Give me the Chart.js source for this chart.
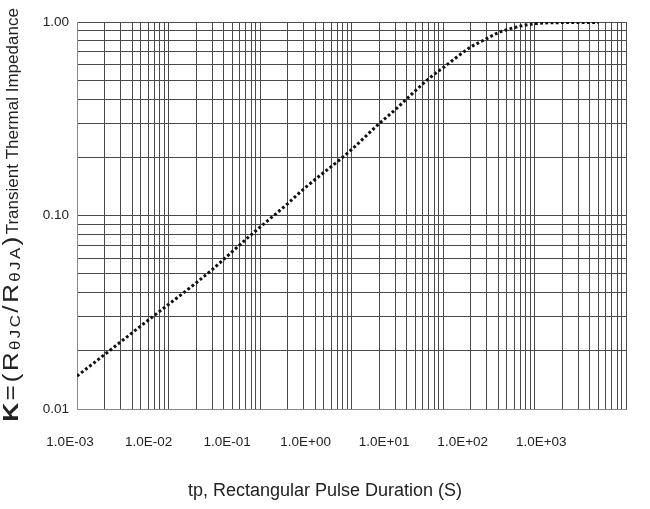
<!DOCTYPE html>
<html>
<head>
<meta charset="utf-8">
<script src="https://cdn.jsdelivr.net/npm/chart.js@4/dist/chart.umd.min.js"></script>
<style>
  html, body { margin: 0; padding: 0; background: #fff; }
  #wrap { width: 650px; height: 509px; }
</style>
</head>
<body>
<div id="wrap"><canvas id="myChart" width="650" height="509"></canvas></div>
<script>
'use strict';

// パルス幅 (s)
var tp = [0.001, 0.002, 0.005, 0.01, 0.02, 0.03, 0.05, 0.08, 0.2, 0.3, 0.8, 1, 2, 3, 4, 7, 10, 20, 30, 40, 70, 100, 200, 500];
// K = RθJC / RθJA
var kValues = [0.0148, 0.0191, 0.0269, 0.0347, 0.0448, 0.0525, 0.0652, 0.0795, 0.115, 0.137, 0.200, 0.219, 0.298, 0.352, 0.40, 0.51, 0.58, 0.741, 0.82, 0.88, 0.952, 0.98, 0.993, 0.995];

// 目盛りラベル
var xTickLabels = ['1.0E-03', '1.0E-02', '1.0E-01', '1.0E+00', '1.0E+01', '1.0E+02', '1.0E+03'];
var yTickLabels = ['0.01', '0.10', '1.00'];

var xTitle = 'tp, Rectangular Pulse Duration (S)';
// 縦軸タイトル (太字・下付きを含むので分割)
var yTitleParts = [
  { text: 'K', bold: true, size: 22, wide: true },
  { text: '=(R', size: 22, wide: true },
  { text: 'θJC', sub: true, size: 14, wide: true },
  { text: '/R', size: 22, wide: true },
  { text: 'θJA', sub: true, size: 14, wide: true },
  { text: ')', size: 22, wide: true },
  { text: 'Transient Thermal Impedance', size: 17 }
];

var FONT = "'Liberation Sans', Arial, sans-serif";
var GRID = '#4a4a4a';

// 対数目盛り 1..9 x 10^n
function logTicks(minExp, maxExp) {
  var t = [];
  for (var e = minExp; e < maxExp; e++) {
    for (var m = 1; m < 10; m++) {
      t.push({ value: parseFloat((m * Math.pow(10, e)).toPrecision(6)) });
    }
  }
  t.push({ value: Math.pow(10, maxExp) });
  return t;
}

// 縦軸タイトルを描くプラグイン
var yTitlePlugin = {
  id: 'yTitle',
  afterDraw: function (chart) {
    var ctx = chart.ctx;
    ctx.save();
    var total = 0;
    yTitleParts.forEach(function (p) {
      ctx.font = (p.bold ? 'bold ' : '') + p.size + 'px ' + FONT;
      ctx.letterSpacing = p.wide ? '2px' : '0px';
      p.k = p.wide ? 1.2 : 1;
      p.w = ctx.measureText(p.text).width * p.k;
      total += p.w;
    });
    ctx.translate(17.5, 215);
    ctx.rotate(-Math.PI / 2);
    ctx.fillStyle = '#222';
    ctx.textBaseline = 'alphabetic';
    var x = -total / 2;
    yTitleParts.forEach(function (p) {
      ctx.font = (p.bold ? 'bold ' : '') + p.size + 'px ' + FONT;
      ctx.letterSpacing = p.wide ? '2px' : '0px';
      ctx.save();
      ctx.translate(x, p.sub ? 2 : 0);
      ctx.scale(p.k, 1);
      ctx.fillText(p.text, 0, 0);
      ctx.restore();
      x += p.w;
    });
    ctx.restore();
  }
};

var ctx = document.getElementById('myChart');

var myChart = new Chart(ctx, {
  type: 'line',
  data: {
    datasets: [{
      data: tp.map(function (t, i) { return { x: t, y: kValues[i] }; }),
      borderColor: '#111',
      borderWidth: 3,
      borderDash: [2.8, 2.4],
      pointRadius: 0,
      cubicInterpolationMode: 'monotone',
      xAxisID: 'x',
      yAxisID: 'y'
    }]
  },
  options: {
    responsive: false,
    animation: false,
    layout: { padding: { left: 0, right: 0, top: 22, bottom: 0 } },
    plugins: {
      legend: { display: false },
      tooltip: { enabled: false },
      title: {
        display: true,
        position: 'bottom',
        text: xTitle,
        color: '#222',
        font: { family: FONT, size: 18, weight: 'normal' },
        padding: { top: 0, bottom: 7 }
      }
    },
    scales: {
      x: {
        type: 'logarithmic',
        position: 'bottom',
        min: 0.001,
        max: 1000,
        afterBuildTicks: function (scale) { scale.ticks = logTicks(-3, 3); },
        afterFit: function (scale) { scale.height = 0; },
        ticks: { display: false, autoSkip: false },
        grid: { color: GRID, lineWidth: 1, drawTicks: false },
        border: { color: '#888' }
      },
      x2: {
        type: 'linear',
        position: 'bottom',
        min: 0,
        max: 6.99,
        afterBuildTicks: function (scale) {
          scale.ticks = xTickLabels.map(function (_, i) { return { value: i }; });
        },
        afterFit: function (scale) { scale.height = 71.4; },
        ticks: {
          autoSkip: false,
          maxRotation: 0,
          padding: 25,
          labelOffset: -7,
          color: '#222',
          font: { family: FONT, size: 13.5 },
          callback: function (v, i) { return xTickLabels[i]; }
        },
        grid: { display: false, drawTicks: false },
        border: { display: false }
      },
      y: {
        type: 'logarithmic',
        position: 'left',
        min: 0.01,
        max: 1,
        afterBuildTicks: function (scale) { scale.ticks = logTicks(-2, 0); },
        afterFit: function (scale) { scale.width = 77; },
        ticks: {
          autoSkip: false,
          padding: 8,
          color: '#222',
          font: { family: FONT, size: 13.5 },
          callback: function (v) {
            var e = Math.log10(v);
            if (Math.abs(e - Math.round(e)) > 1e-6) return '';
            return yTickLabels[Math.round(e) + 2];
          }
        },
        grid: { color: GRID, lineWidth: 1, drawTicks: false },
        border: { color: '#888' }
      },
      // 右側の余白用
      yRight: {
        type: 'linear',
        position: 'right',
        afterFit: function (scale) { scale.width = 24; },
        ticks: { display: false },
        grid: { display: false, drawTicks: false },
        border: { display: false }
      }
    }
  },
  plugins: [yTitlePlugin]
});
</script>
</body>
</html>
